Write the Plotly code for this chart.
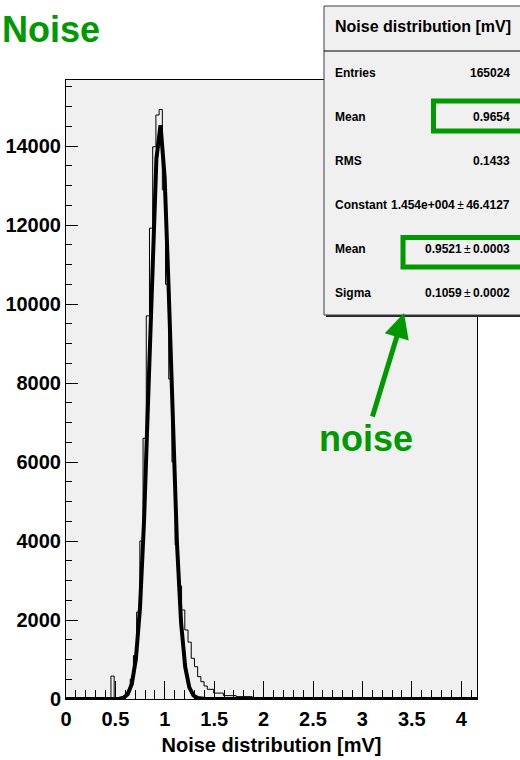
import numpy as np
import plotly.graph_objects as go

# ---- histogram definition: 128 bins over [0, 4.16] mV ----
x_min, x_max, n_bins = 0.0, 4.16, 128
first_bin = 14
bin_counts = [
    580, 2, 8, 25, 70, 180, 500, 1100, 2200, 4000, 6600,
    9700, 11920, 13980, 14785, 14925, 12890, 10500, 8100, 6000, 3900,
    2860, 2253, 1747, 1440, 1030, 818, 565, 438, 329, 245,
    245, 150, 150, 150, 85, 85, 85, 85, 60, 60,
    60, 60, 60, 30, 30, 20, 15, 12, 8, 5,
    4, 3, 2,
]

# ---- gaussian fit parameters ----
fit_constant = 1.454e4
fit_mean = 0.9521
fit_sigma = 0.1059
fit_npx = 100

# ---- statistics box rows ----
stats_title = "Noise distribution [mV]"
stats_labels = ["Entries", "Mean", "RMS", "Constant", "Mean", "Sigma"]
stats_values = ["165024", "0.9654", "0.1433",
                "1.454e+004 \u00b1 46.4127", "0.9521 \u00b1 0.0003", "0.1059 \u00b1 0.0002"]

y_max = 15671
GREEN = "rgb(0,153,0)"
FONT = "Liberation Sans, Arial, sans-serif"

edges = np.linspace(x_min, x_max, n_bins + 1)
counts = np.zeros(n_bins)
counts[first_bin:first_bin + len(bin_counts)] = bin_counts

# step outline of the histogram
step_x = np.repeat(edges, 2)[1:-1]
step_y = np.repeat(counts, 2)

fit_x = np.linspace(x_min, x_max, fit_npx + 1)
fit_y = fit_constant * np.exp(-0.5 * ((fit_x - fit_mean) / fit_sigma) ** 2)

fig = go.Figure()
fig.add_trace(go.Scatter(x=step_x, y=step_y, mode="lines",
                         line=dict(color="black", width=1), hoverinfo="skip"))
fig.add_trace(go.Scatter(x=fit_x, y=fit_y, mode="lines",
                         line=dict(color="black", width=4), hoverinfo="skip"))

W, H = 520, 760
L, R, T, B = 66, 43, 80, 61
pw, ph = W - L - R, H - T - B


def px(xp):
    return (xp - L) / pw


def py(yp):
    return (H - B - yp) / ph


shapes = []
# statistics box with shadow
shapes.append(dict(type="rect", xref="paper", yref="paper",
                   x0=px(326), x1=px(530), y0=py(317), y1=py(8),
                   fillcolor="rgb(40,40,40)", line=dict(width=0), layer="above"))
shapes.append(dict(type="rect", xref="paper", yref="paper",
                   x0=px(324), x1=px(530), y0=py(315), y1=py(6),
                   fillcolor="rgb(240,240,240)",
                   line=dict(color="rgb(60,60,60)", width=1), layer="above"))
shapes.append(dict(type="line", xref="paper", yref="paper",
                   x0=px(324), x1=px(530), y0=py(51), y1=py(51),
                   line=dict(color="black", width=1), layer="above"))
# highlight frames
shapes.append(dict(type="rect", xref="paper", yref="paper",
                   x0=px(433.5), x1=px(524), y0=py(131), y1=py(101),
                   line=dict(color=GREEN, width=5), layer="above"))
shapes.append(dict(type="rect", xref="paper", yref="paper",
                   x0=px(403), x1=px(524), y0=py(267), y1=py(237.5),
                   line=dict(color=GREEN, width=5), layer="above"))

annotations = []
annotations.append(dict(text="<b>Noise</b>", xref="paper", yref="paper",
                        x=px(0), y=py(29), xanchor="left", yanchor="middle",
                        showarrow=False, font=dict(family=FONT, size=36, color=GREEN)))
annotations.append(dict(text="<b>" + stats_title + "</b>", xref="paper", yref="paper",
                        x=px(423), y=py(27), xanchor="center", yanchor="middle",
                        showarrow=False, font=dict(family=FONT, size=16, color="black")))
row_y = [73, 117, 161, 205, 249, 293]
for lab, val, yy in zip(stats_labels, stats_values, row_y):
    annotations.append(dict(text="<b>" + lab + "</b>", xref="paper", yref="paper",
                            x=px(333), y=py(yy), xanchor="left", yanchor="middle",
                            showarrow=False, font=dict(family=FONT, size=12, color="black")))
    val_html = "<b>" + val.replace(" \u00b1 ", "</b>\u2009\u00b1\u2009<b>") + "</b>"
    annotations.append(dict(text=val_html, xref="paper", yref="paper",
                            x=px(512), y=py(yy), xanchor="right", yanchor="middle",
                            showarrow=False, font=dict(family=FONT, size=12, color="black")))
# arrow and its label
annotations.append(dict(text="", xref="paper", yref="paper", x=px(404), y=py(313),
                        ax=-32, ay=105, showarrow=True, arrowhead=2, arrowsize=1,
                        arrowwidth=5, arrowcolor=GREEN, standoff=0))
annotations.append(dict(text="<b>noise</b>", xref="paper", yref="paper",
                        x=px(365.5), y=py(438), xanchor="center", yanchor="middle",
                        showarrow=False, font=dict(family=FONT, size=36, color=GREEN)))

axis_font = dict(family=FONT, size=20, color="black", weight="bold")
fig.update_layout(
    width=W, height=H,
    margin=dict(l=L, r=R, t=T, b=B, pad=0),
    paper_bgcolor="white", plot_bgcolor="rgb(240,240,240)",
    showlegend=False,
    shapes=shapes, annotations=annotations,
    xaxis=dict(range=[x_min, x_max], tick0=0, dtick=0.5, automargin=False,
               ticks="inside", ticklen=18, tickwidth=1, tickcolor="black",
               minor=dict(dtick=0.1, ticks="inside", ticklen=9, tickcolor="black", showgrid=False),
               showline=True, mirror=True, linecolor="black", linewidth=1,
               showgrid=False, zeroline=False, tickfont=axis_font, ticklabelstandoff=2,
               title=dict(text="<b>Noise distribution [mV]</b>", font=axis_font, standoff=8)),
    yaxis=dict(range=[0, y_max], tick0=0, dtick=2000, tickformat="d", automargin=False,
               ticks="inside", ticklen=12, tickwidth=1, tickcolor="black",
               minor=dict(dtick=500, ticks="inside", ticklen=6, tickcolor="black", showgrid=False),
               showline=True, mirror=True, linecolor="black", linewidth=1,
               showgrid=False, zeroline=False, tickfont=axis_font),
)

fig.write_html("out.html")
